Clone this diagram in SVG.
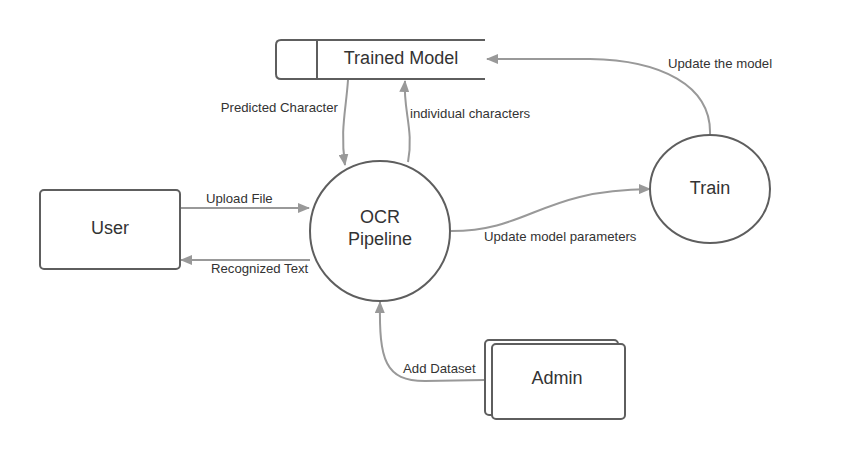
<svg xmlns="http://www.w3.org/2000/svg" width="850" height="460" viewBox="0 0 850 460">
<defs>
<marker id="arr" viewBox="0 0 12 10" refX="11" refY="5" markerWidth="12" markerHeight="10" markerUnits="userSpaceOnUse" orient="auto">
<path d="M0,0 L12,5 L0,10 Z" fill="#999999"/>
</marker>
</defs>
<style>
.shape{fill:#ffffff;stroke:#5e5e5e;stroke-width:2}
.node{font-family:"Liberation Sans",Arial,sans-serif;font-size:18px;fill:#333333;text-anchor:middle}
.lbl{font-family:"Liberation Sans",Arial,sans-serif;font-size:13.2px;fill:#333333}
.conn{fill:none;stroke:#999999;stroke-width:2;marker-end:url(#arr)}
</style>
<rect width="850" height="460" fill="#ffffff"/>
<g id="connectors">
<path class="conn" d="M180,208 L309,208"/>
<path class="conn" d="M310,260 L181,260"/>
<path class="conn" d="M348,80 C346,110 340,130 345,165"/>
<path class="conn" d="M408,162 C414,130 403,110 405,81"/>
<path class="conn" d="M710,135 C712,85 660,60 590,59 L487,59"/>
<path class="conn" d="M451,231 C530,231 540,190 650,189"/>
<path class="conn" d="M485,380 L425,381 C385,381 379,360 380,302"/>
<text class="lbl" x="206" y="203">Upload File</text>
<text class="lbl" x="211" y="273">Recognized Text</text>
<text class="lbl" x="338" y="112" text-anchor="end">Predicted Character</text>
<text class="lbl" x="410" y="118">individual characters</text>
<text class="lbl" x="668" y="68">Update the model</text>
<text class="lbl" x="484" y="241">Update model parameters</text>
<text class="lbl" x="403" y="373">Add Dataset</text>
</g>
<g id="trained-model">
<path d="M485,40 L281,40 Q276,40 276,45 L276,74 Q276,79 281,79 L485,79" fill="#ffffff" stroke="#5e5e5e" stroke-width="2"/>
<line x1="317" y1="40" x2="317" y2="79" stroke="#5e5e5e" stroke-width="2"/>
<text class="node" x="401" y="64">Trained Model</text>
</g>
<g id="user">
<rect class="shape" x="40" y="190" width="140" height="79" rx="4"/>
<text class="node" x="110" y="234">User</text>
</g>
<g id="ocr-pipeline">
<circle class="shape" cx="380" cy="231" r="70"/>
<text class="node" x="380" y="223">OCR</text>
<text class="node" x="380" y="245">Pipeline</text>
</g>
<g id="train">
<ellipse class="shape" cx="710" cy="189" rx="60" ry="54"/>
<text class="node" x="710" y="194">Train</text>
</g>
<g id="admin">
<rect class="shape" x="485" y="340" width="133" height="75" rx="4"/>
<rect class="shape" x="492" y="344" width="133" height="75" rx="4"/>
<text class="node" x="557" y="384">Admin</text>
</g>
</svg>
